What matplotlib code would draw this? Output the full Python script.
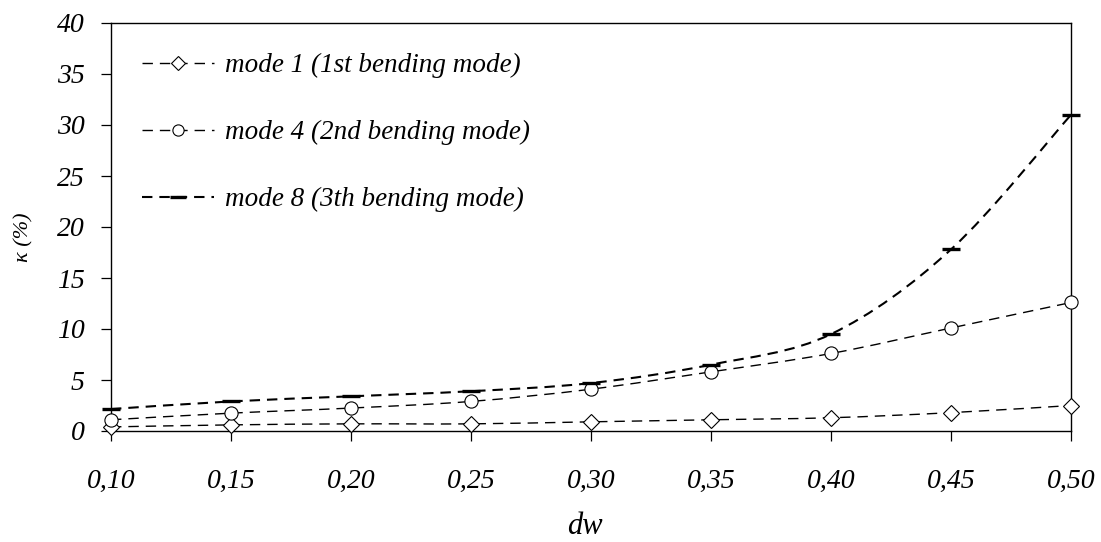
import numpy as np
import matplotlib.pyplot as plt
from matplotlib.path import Path
from matplotlib.patches import PathPatch
from matplotlib.lines import Line2D

# kappa (%) against dw for the three bending modes
dw = [0.10, 0.15, 0.20, 0.25, 0.30, 0.35, 0.40, 0.45, 0.50]
mode1 = [0.4, 0.6, 0.7, 0.7, 0.9, 1.1, 1.3, 1.8, 2.5]
mode4 = [1.1, 1.75, 2.25, 2.9, 4.1, 5.8, 7.6, 10.1, 12.6]
mode8 = [2.15, 2.9, 3.4, 3.9, 4.7, 6.5, 9.5, 17.8, 31.0]

labels = ['mode 1 (1st bending mode)',
          'mode 4 (2nd bending mode)',
          'mode 8 (3th bending mode)']
xtick_vals = [0.10, 0.15, 0.20, 0.25, 0.30, 0.35, 0.40, 0.45, 0.50]
xtick_labels = ['0,10', '0,15', '0,20', '0,25', '0,30', '0,35', '0,40', '0,45', '0,50']
ytick_vals = [0, 5, 10, 15, 20, 25, 30, 35, 40]

plt.rcParams['font.family'] = ['Liberation Serif', 'DejaVu Serif']
plt.rcParams['font.style'] = 'italic'

W, H = 1101, 542


def smooth_path(x, y):
    # Bezier curve through the points, like a spreadsheet "smoothed line"
    pts = np.column_stack([x, y])
    n = len(pts)
    verts = [pts[0]]
    codes = [Path.MOVETO]
    for i in range(n - 1):
        p0 = pts[max(i - 1, 0)]
        p1 = pts[i]
        p2 = pts[i + 1]
        p3 = pts[min(i + 2, n - 1)]
        verts += [p1 + (p2 - p0) / 6, p2 - (p3 - p1) / 6, p2]
        codes += [Path.CURVE4] * 3
    return Path(verts, codes)


fig = plt.figure(figsize=(W / 100, H / 100), dpi=100)
ax = fig.add_axes([111 / W, 1 - 431 / H, 960 / W, 408 / H])

styles = [
    dict(marker='D', ms=8, mew=0.8, mfc='white', mec='black', lw=1.0),
    dict(marker='o', ms=9.5, mew=0.8, mfc='white', mec='black', lw=1.0),
    dict(marker='_', ms=13, mew=2.4, mfc='black', mec='black', lw=1.5),
]
series = [mode1, mode4, mode8]

handles = []
for ys, st, lab in zip(series, styles, labels):
    lw = st['lw']
    dash = (0, (7.5 / lw, 5 / lw))
    patch = PathPatch(smooth_path(np.array(dw), np.array(ys)), fill=False,
                      edgecolor='black', lw=lw, linestyle=dash)
    ax.add_patch(patch)
    ax.plot(dw, ys, linestyle='none', marker=st['marker'], ms=st['ms'],
            mew=st['mew'], mfc=st['mfc'], mec=st['mec'], clip_on=False, zorder=3)
    handles.append(Line2D([], [], color='black', lw=lw, linestyle=dash,
                          marker=st['marker'], ms=st['ms'] * 0.85, mew=st['mew'],
                          mfc=st['mfc'], mec=st['mec']))

ax.set_xlim(0.10, 0.50)
ax.set_ylim(0, 40)
ax.set_xticks(xtick_vals)
ax.set_xticklabels(xtick_labels)
ax.set_yticks(ytick_vals)
ax.tick_params(axis='x', direction='out', length=7, width=0.9, pad=20, labelsize=20)
ax.tick_params(axis='y', direction='out', length=7, width=0.9, pad=12, labelsize=20)
for sp in ax.spines.values():
    sp.set_linewidth(1.0)

leg = ax.legend(handles, labels, loc='upper left',
                bbox_to_anchor=(142 / W, 1 - 53 / H), bbox_transform=fig.transFigure,
                frameon=False, fontsize=19.5, handlelength=2.65, handletextpad=0.42,
                labelspacing=1.55, borderpad=0, borderaxespad=0, numpoints=1)

fig.text(585 / W, 1 - 527 / H, 'dw', fontsize=22, ha='center', va='center')
fig.text(24 / W, 1 - 237 / H, 'κ (%)', fontsize=16, ha='center', va='center',
         rotation=90)

fig.savefig('out.png', dpi=100, facecolor='white')
